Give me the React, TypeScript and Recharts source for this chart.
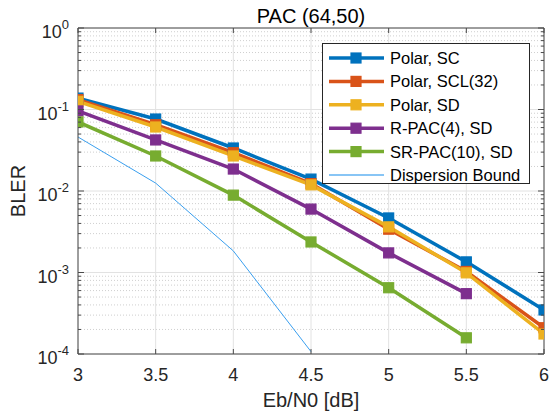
import { LineChart, Line, XAxis, YAxis, CartesianGrid, Legend, Label } from 'recharts';

// Eb/N0 in dB
const ebn0 = [3, 3.5, 4, 4.5, 5, 5.5, 6];

// BLER per decoder
const polarSC = [0.138, 0.0764, 0.0337, 0.014, 0.00467, 0.00135, 0.000347];
const polarSCL = [0.132, 0.065, 0.0295, 0.0123, 0.0034, 0.00103, 0.00021];
const polarSD = [0.126, 0.061, 0.0269, 0.0119, 0.00363, 0.00099, 0.000176];
const rpac = [0.096, 0.0423, 0.0186, 0.006, 0.00174, 0.00055];
const srpac = [0.0703, 0.0269, 0.0089, 0.00237, 0.00065, 0.000158];
const dispersion = [0.046, 0.0125, 0.00184, 0.000107];

const xTicks = [3, 3.5, 4, 4.5, 5, 5.5, 6];
const yMajor = [1e-4, 1e-3, 1e-2, 1e-1, 1];
const yMinor = [1e-4, 1e-3, 1e-2, 1e-1].flatMap((d) => [2, 3, 4, 5, 6, 7, 8, 9].map((k) => k * d));
const yAllTicks = [...yMajor, ...yMinor];

const series = [
  { key: 'sc', name: 'Polar, SC', color: '#0072BD', width: 3.5, marker: true },
  { key: 'scl', name: 'Polar, SCL(32)', color: '#D95319', width: 3.5, marker: true },
  { key: 'sd', name: 'Polar, SD', color: '#EDB120', width: 3.5, marker: true },
  { key: 'rpac', name: 'R-PAC(4), SD', color: '#7E2F8E', width: 3.5, marker: true },
  { key: 'srpac', name: 'SR-PAC(10), SD', color: '#77AC30', width: 3.5, marker: true },
  { key: 'disp', name: 'Dispersion Bound', color: '#3A9FEF', width: 1, marker: false },
];

const data = ebn0.map((x, i) => ({
  x,
  sc: polarSC[i],
  scl: polarSCL[i],
  sd: polarSD[i],
  rpac: rpac[i],
  srpac: srpac[i],
  disp: dispersion[i],
}));

const AXIS = '#4a4a4a';
const TXT = '#262626';

function LeftTick(props: any) {
  const { x, y, payload } = props;
  const v = payload.value;
  const major = yMajor.includes(v);
  return (
    <g>
      <line x1={x} y1={y} x2={x + (major ? 6 : 3)} y2={y} stroke={AXIS} />
      {major && (
        <text x={x - 9} y={y + 10} textAnchor="end" fontSize={18} fill={TXT}>
          10<tspan fontSize={13} dy={-9}>{Math.round(Math.log10(v))}</tspan>
        </text>
      )}
    </g>
  );
}

function RightTick(props: any) {
  const { x, y, payload } = props;
  const major = yMajor.includes(payload.value);
  return <line x1={x} y1={y} x2={x - (major ? 6 : 3)} y2={y} stroke={AXIS} />;
}

function BottomTick(props: any) {
  const { x, y, payload } = props;
  return (
    <g>
      <line x1={x} y1={y} x2={x} y2={y - 5} stroke={AXIS} />
      <text x={x} y={y + 27} textAnchor="middle" fontSize={18} fill={TXT}>
        {payload.value}
      </text>
    </g>
  );
}

function TopTick(props: any) {
  const { x, y } = props;
  return <line x1={x} y1={y} x2={x} y2={y + 5} stroke={AXIS} />;
}

function squareDot(color: string) {
  return (p: any) => {
    if (p.cy == null || p.value == null) return <g key={p.key} />;
    return (
      <rect key={p.key} x={p.cx - 5} y={p.cy - 5} width={10} height={10} fill={color} stroke={color} strokeWidth={1.2} />
    );
  };
}

function LegendBox() {
  const rowH = 23.4;
  return (
    <svg width={208} height={141} style={{ display: 'block' }}>
      <rect x={0.5} y={0.5} width={207} height={140} fill="#fff" stroke={TXT} strokeWidth={1} />
      {series.map((s, i) => {
        const cy = 15 + i * rowH;
        return (
          <g key={s.key}>
            <line x1={7} y1={cy} x2={62} y2={cy} stroke={s.color} strokeWidth={s.marker ? 3.5 : 2} opacity={s.marker ? 1 : 0.6} />
            {s.marker && <rect x={29} y={cy - 5} width={10} height={10} fill={s.color} stroke={s.color} strokeWidth={1.2} />}
            <text x={68} y={cy + 6} fontSize={16.5} fill="#000">
              {s.name}
            </text>
          </g>
        );
      })}
    </svg>
  );
}

export default function App() {
  return (
    <div style={{ width: 552, height: 417, fontFamily: '"Liberation Sans", Arial, Helvetica, sans-serif', background: '#fff' }}>
      <style>{'body{margin:0}'}</style>
      <LineChart width={552} height={417} data={data} margin={{ top: 27, right: 7, left: 0, bottom: 0 }}>
        <CartesianGrid vertical={false} stroke="#cfcfcf" strokeDasharray="1 2" horizontalValues={yMinor} />
        <CartesianGrid stroke="#e2e2e2" horizontalValues={yMajor} verticalValues={xTicks} />
        <XAxis
          dataKey="x"
          type="number"
          domain={[3, 6]}
          ticks={xTicks}
          interval={0}
          allowDataOverflow
          height={63}
          tickSize={0}
          tickMargin={0}
          tickLine={false}
          axisLine={{ stroke: AXIS }}
          tick={BottomTick}
        >
          <Label value="Eb/N0 [dB]" position="insideBottom" offset={10} fontSize={20} fill={TXT} />
        </XAxis>
        <XAxis
          xAxisId="top"
          orientation="top"
          dataKey="x"
          type="number"
          domain={[3, 6]}
          ticks={xTicks}
          interval={0}
          allowDataOverflow
          height={1}
          tickSize={0}
          tickMargin={0}
          tickLine={false}
          axisLine={{ stroke: AXIS }}
          tick={TopTick}
        >
          <Label value="PAC (64,50)" position="top" offset={4} fontSize={20} fill="#000" />
        </XAxis>
        <YAxis
          type="number"
          scale="log"
          domain={[1e-4, 1]}
          ticks={yAllTicks}
          interval={0}
          allowDataOverflow
          width={78}
          tickSize={0}
          tickMargin={0}
          tickLine={false}
          axisLine={{ stroke: AXIS }}
          tick={LeftTick}
        >
          <Label value="BLER" angle={-90} position="insideLeft" offset={18} fontSize={20} fill={TXT} style={{ textAnchor: 'middle' }} />
        </YAxis>
        <YAxis
          yAxisId="right"
          orientation="right"
          type="number"
          scale="log"
          domain={[1e-4, 1]}
          ticks={yAllTicks}
          interval={0}
          allowDataOverflow
          width={1}
          tickSize={0}
          tickMargin={0}
          tickLine={false}
          axisLine={{ stroke: AXIS }}
          tick={RightTick}
        />
        {/* invisible series so the top/right box axes get drawn */}
        <Line
          xAxisId="top"
          yAxisId="right"
          dataKey="sc"
          stroke="none"
          dot={false}
          activeDot={false}
          legendType="none"
          isAnimationActive={false}
        />
        {series.map((s) => (
          <Line
            key={s.key}
            dataKey={s.key}
            name={s.name}
            type="linear"
            stroke={s.color}
            strokeWidth={s.width}
            dot={s.marker ? squareDot(s.color) : false}
            activeDot={false}
            isAnimationActive={false}
          />
        ))}
        <Legend
          layout="vertical"
          align="center"
          verticalAlign="middle"
          wrapperStyle={{ left: 322, top: 43, width: 208, height: 141 }}
          content={() => <LegendBox />}
        />
      </LineChart>
    </div>
  );
}
